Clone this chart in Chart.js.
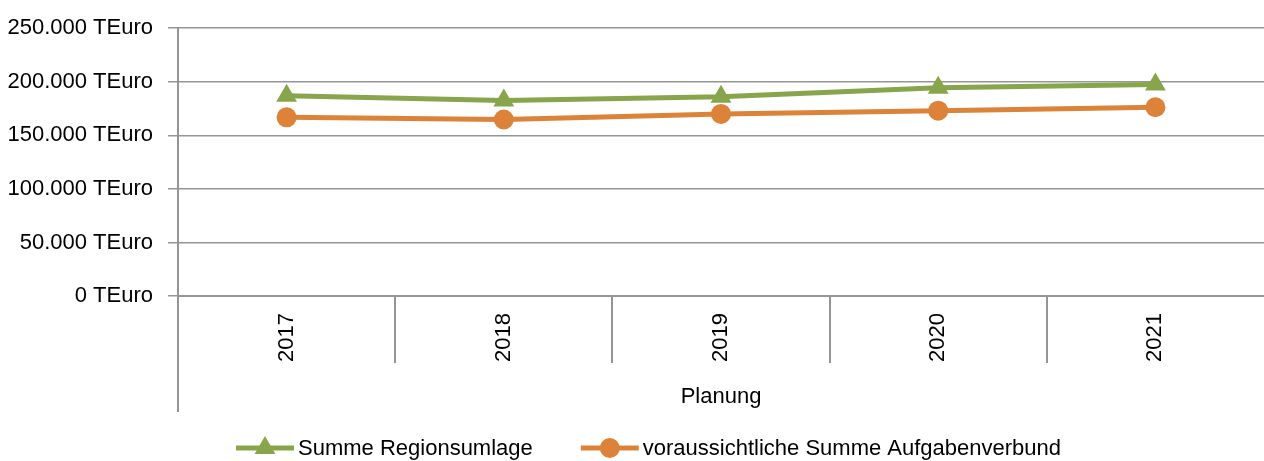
<!DOCTYPE html>
<html>
<head>
<meta charset="utf-8">
<script src="https://cdn.jsdelivr.net/npm/chart.js@4.4.1/dist/chart.umd.min.js"></script>
<style>
  html, body { margin: 0; padding: 0; background: #fff; overflow: hidden; }
  #wrap { width: 1264px; height: 461px; position: relative; }
  #chart { display: block; }
</style>
</head>
<body>
<div id="wrap"><canvas id="chart"></canvas></div>
<script>
// Data
const YEARS = ['2017', '2018', '2019', '2020', '2021'];
const GROUP_LABEL = 'Planung';
const REGIONSUMLAGE = [187000, 182500, 186000, 194500, 197500];
const AUFGABENVERBUND = [166800, 164800, 170000, 173000, 176200];
const Y_TICKS = [0, 50000, 100000, 150000, 200000, 250000];
const SERIES_NAMES = ['Summe Regionsumlage', 'voraussichtliche Summe Aufgabenverbund'];

// Colours
const GREEN = '#87A54A';
const ORANGE = '#DD8339';
const GRID = '#959595';

// Pick a narrow font if there is one, sized so the widest y label is ~145px
function pickFont() {
    const c = document.createElement('canvas').getContext('2d');
    const sample = '250.000 TEuro';
    c.font = '26px "Liberation Sans Narrow", monospace';
    const a = c.measureText(sample).width;
    c.font = '26px "Liberation Sans Narrow", serif';
    const b = c.measureText(sample).width;
    if (Math.abs(a - b) < 0.5) {
        return { family: '"Liberation Sans Narrow"', size: Math.round(26 * 145 / a) };
    }
    c.font = '26px "Liberation Sans"';
    const w = c.measureText(sample).width;
    return { family: '"Liberation Sans", Arial, sans-serif', size: Math.round(26 * 145 / w) };
}
const FONT = pickFont();

function formatEuro(v) {
    return String(v).replace(/\B(?=(\d{3})+(?!\d))/g, '.') + ' TEuro';
}

// Extends the y axis line down past the category labels
const axisExtension = {
    id: 'axisExtension',
    afterDraw(chart) {
        const ctx = chart.ctx;
        const area = chart.chartArea;
        const xScale = chart.scales.x;
        ctx.save();
        ctx.strokeStyle = GRID;
        ctx.lineWidth = 2;
        ctx.beginPath();
        ctx.moveTo(area.left, area.bottom);
        ctx.lineTo(area.left, xScale.bottom);
        ctx.stroke();
        ctx.restore();
    }
};

// Legend with line + marker, like the office chart
const lineLegend = {
    id: 'lineLegend',
    afterDraw(chart) {
        const ctx = chart.ctx;
        const y = 448;
        let x = 236;
        ctx.save();
        ctx.font = FONT.size + 'px ' + FONT.family;
        ctx.textBaseline = 'middle';
        chart.data.datasets.forEach(ds => {
            const lineLen = 58;
            ctx.strokeStyle = ds.borderColor;
            ctx.lineWidth = ds.borderWidth;
            ctx.beginPath();
            ctx.moveTo(x, y);
            ctx.lineTo(x + lineLen, y);
            ctx.stroke();
            ctx.fillStyle = ds.borderColor;
            Chart.helpers.drawPoint(ctx, {
                pointStyle: ds.pointStyle,
                radius: ds.pointRadius,
                borderWidth: 0,
                rotation: 0
            }, x + lineLen / 2, y);
            ctx.fillStyle = '#000';
            ctx.fillText(ds.label, x + lineLen + 4, y + 1);
            x += lineLen + 4 + ctx.measureText(ds.label).width + 48;
        });
        ctx.restore();
    }
};

Chart.defaults.font.family = FONT.family;
Chart.defaults.font.size = FONT.size;
Chart.defaults.color = '#000';

const ctx = document.getElementById('chart').getContext('2d');
const chart = new Chart(ctx, {
    type: 'line',
    data: {
        labels: YEARS,
        datasets: [
            {
                label: SERIES_NAMES[0],
                data: REGIONSUMLAGE,
                borderColor: GREEN,
                backgroundColor: GREEN,
                borderWidth: 5,
                pointStyle: 'triangle',
                pointRadius: 12,
                pointHoverRadius: 12,
                pointBorderWidth: 0,
                tension: 0
            },
            {
                label: SERIES_NAMES[1],
                data: AUFGABENVERBUND,
                borderColor: ORANGE,
                backgroundColor: ORANGE,
                borderWidth: 5,
                pointStyle: 'circle',
                pointRadius: 10,
                pointHoverRadius: 10,
                pointBorderWidth: 0,
                tension: 0
            }
        ]
    },
    options: {
        responsive: true,
        maintainAspectRatio: false,
        animation: false,
        devicePixelRatio: 1,
        layout: {
            autoPadding: false,
            padding: { left: 8, top: 25, right: 0, bottom: 49 }
        },
        scales: {
            x: {
                type: 'category',
                offset: true,
                grid: {
                    offset: true,
                    drawOnChartArea: false,
                    tickLength: 67,
                    lineWidth: 2,
                    color: c => c.tick ? GRID : 'rgba(0,0,0,0)'
                },
                border: { display: true, color: GRID, width: 2 },
                ticks: {
                    minRotation: 90,
                    maxRotation: 90,
                    padding: -50,
                    autoSkip: false
                },
                title: {
                    display: true,
                    text: GROUP_LABEL,
                    padding: { top: 19, bottom: 2 }
                },
                afterFit: scale => {
                    scale.height = 116;
                    scale.paddingLeft = 0;
                    scale.paddingRight = 0;
                }
            },
            y: {
                min: 0,
                max: 250000,
                afterBuildTicks: scale => {
                    scale.ticks = Y_TICKS.map(value => ({ value }));
                },
                grid: {
                    color: GRID,
                    lineWidth: 1.5,
                    tickLength: 10
                },
                border: { display: true, color: GRID, width: 2 },
                ticks: {
                    padding: 15,
                    callback: v => formatEuro(v)
                },
                afterFit: scale => {
                    scale.width = 170;
                }
            }
        },
        plugins: {
            legend: { display: false },
            tooltip: { enabled: false }
        }
    },
    plugins: [axisExtension, lineLegend]
});
</script>
</body>
</html>
